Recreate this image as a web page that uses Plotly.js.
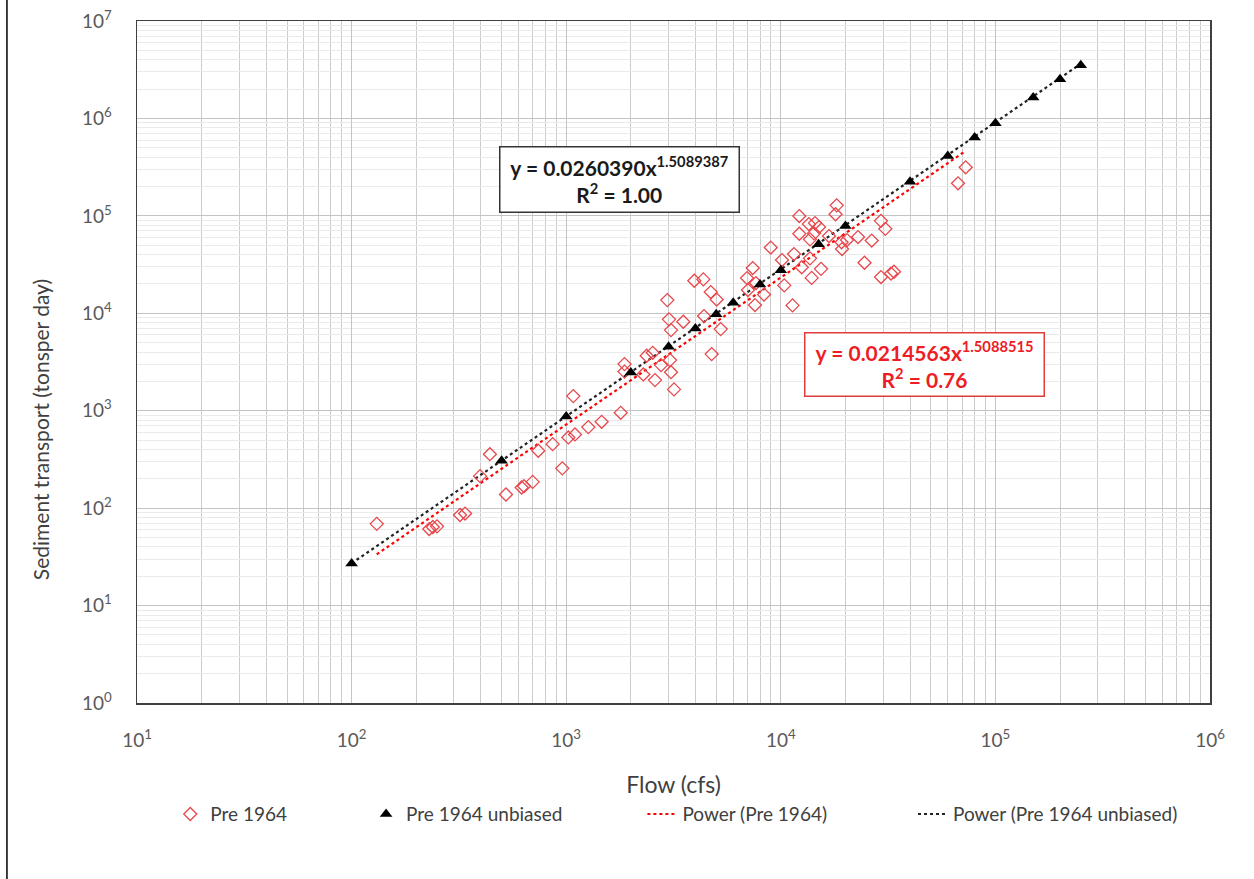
<!DOCTYPE html>
<html>
<head>
<meta charset="utf-8">
<script src="https://cdn.plot.ly/plotly-3.0.1.min.js"></script>
<style>html,body{margin:0;padding:0;background:#fff;}#chart{width:1254px;height:879px;}</style>
</head>
<body>
<div id="chart"></div>
<script>
// Pre 1964 observations (flow cfs, sediment tons/day)
const flowPre = [131, 230, 239, 250, 320, 338, 397, 441, 524, 620, 636, 698, 741, 865, 959, 1023, 1099, 1079, 1268, 1463,
  1795, 1870, 1870, 2287, 2372, 2530, 2593, 2766, 3046, 3079, 3180, 2959, 3013, 3079, 3513, 3954, 4356, 4715, 5027, 4388,
  4764, 5248, 6960, 7400, 7660, 7030, 7580, 8350, 8980, 10130, 10380, 11340, 11520, 12200, 12200, 12520, 13510, 14430, 15070, 14280,
  13680, 13680, 13930, 15400, 16770, 18220, 17990, 19190, 19290, 20350, 22900, 26520, 24550, 29300, 30690, 29300, 32620, 33690, 66950, 72700];
const sedPre = [69, 61, 64, 65, 85, 88, 213, 358, 138, 163, 168, 186, 388, 454, 256, 532, 571, 1412, 679, 769,
  952, 3010, 2520, 2358, 3663, 3930, 2062, 2939, 3307, 2485, 1655, 13660, 8660, 6720, 8180, 21560, 22280, 16510, 13830, 9360,
  3810, 6880, 22980, 29120, 20420, 17310, 12140, 15560, 47260, 35170, 19340, 12050, 40540, 99500, 65500, 29670, 82360, 84350, 76740, 66120,
  36630, 57380, 23090, 28570, 62030, 128200, 103800, 53580, 45610, 56430, 60570, 55770, 33000, 88850, 73550, 23530, 25560, 26680, 215700, 314800];

// Pre 1964 unbiased
const flowUnb = [100, 500, 1000, 2000, 3000, 4000, 5000, 6000, 8000, 10000, 15000, 20000, 40000, 60000, 80000, 100000, 150000, 200000, 250000];
const sedUnb = [27, 306, 870, 2470, 4530, 6990, 9780, 12800, 19700, 27700, 51000, 78700, 224000, 412000, 636000, 890000, 1640000, 2530000, 3520000];

// Power trendline coefficients (from chart labels)
const coefPre = 0.0214563, expPre = 1.5088515, r2Pre = "0.76";
const coefUnb = 0.0260390, expUnb = 1.5089387, r2Unb = "1.00";

const xTickVals = [10, 100, 1000, 10000, 100000, 1000000];
const xTickText = ["10<sup>1</sup>", "10<sup>2</sup>", "10<sup>3</sup>", "10<sup>4</sup>", "10<sup>5</sup>", "10<sup>6</sup>"];
const yTickVals = [1, 10, 100, 1000, 10000, 100000, 1000000, 10000000];
const yTickText = ["10<sup>0</sup>", "10<sup>1</sup>", "10<sup>2</sup>", "10<sup>3</sup>", "10<sup>4</sup>", "10<sup>5</sup>", "10<sup>6</sup>", "10<sup>7</sup>"];

const xTitle = "Flow (cfs)";
const yTitle = "Sediment transport (tonsper day)";

function minorVals(lo, hi) {
  const v = [];
  for (let e = lo; e < hi; e++) for (let d = 2; d <= 9; d++) v.push(d * Math.pow(10, e));
  return v;
}
function powerLine(xs, a, b) {
  const x0 = Math.min(...xs), x1 = Math.max(...xs);
  return {x: [x0, x1], y: [a * Math.pow(x0, b), a * Math.pow(x1, b)]};
}
const linePre = powerLine(flowPre, coefPre, expPre);
const lineUnb = powerLine(flowUnb, coefUnb, expUnb);

const FONT = "Lato, 'Open Sans', sans-serif";
const GRAY = "#595959";
const RED = "#ee1c24";

const traces = [
  {x: linePre.x, y: linePre.y, mode: "lines", name: "Power (Pre 1964)", legend: "legend3",
   line: {color: "#ff0000", width: 2.2, dash: "dot"}, hoverinfo: "skip"},
  {x: lineUnb.x, y: lineUnb.y, mode: "lines", name: "Power (Pre 1964 unbiased)", legend: "legend4",
   line: {color: "#222222", width: 2.2, dash: "dot"}, hoverinfo: "skip"},
  {x: flowPre, y: sedPre, mode: "markers", name: "Pre 1964", legend: "legend",
   marker: {symbol: "diamond-open", size: 10, color: "#e8474c", line: {width: 1.3, color: "#e8474c"}}},
  {x: flowUnb, y: sedUnb, mode: "markers", name: "Pre 1964 unbiased", legend: "legend2",
   marker: {symbol: "triangle-up", size: 11, color: "#000000"}}
];

const legBase = {orientation: "h", yanchor: "middle", y: -0.163, xanchor: "left",
  font: {family: FONT, size: 19, color: "#404040"}, bgcolor: "rgba(0,0,0,0)"};

const layout = {
  width: 1254, height: 879,
  margin: {l: 137, r: 44, t: 21, b: 176},
  paper_bgcolor: "#ffffff", plot_bgcolor: "#ffffff",
  font: {family: FONT, color: GRAY},
  showlegend: true,
  legend: Object.assign({}, legBase, {x: 0.031}),
  legend2: Object.assign({}, legBase, {x: 0.2135}),
  legend3: Object.assign({}, legBase, {x: 0.471}),
  legend4: Object.assign({}, legBase, {x: 0.7232}),
  xaxis: {
    type: "log", range: [1, 6], tickmode: "array", tickvals: xTickVals, ticktext: xTickText,
    tickfont: {family: FONT, size: 19, color: GRAY}, ticklabelstandoff: 20, ticks: "",
    showgrid: true, gridcolor: "#c4c4c4", gridwidth: 1,
    minor: {tickmode: "array", tickvals: minorVals(1, 6), showgrid: true, gridcolor: "#cccccc", gridwidth: 1, ticks: ""},
    showline: true, mirror: true, linecolor: "#404040", linewidth: 1.5, zeroline: false,
    title: {text: xTitle, font: {family: FONT, size: 23, color: "#404040"}, standoff: 26}
  },
  yaxis: {
    type: "log", range: [0, 7], tickmode: "array", tickvals: yTickVals, ticktext: yTickText,
    tickfont: {family: FONT, size: 19, color: GRAY}, ticklabelstandoff: 20, ticks: "",
    showgrid: true, gridcolor: "#c4c4c4", gridwidth: 1,
    minor: {tickmode: "array", tickvals: minorVals(0, 7), showgrid: true, gridcolor: "#eaeaea", gridwidth: 1, ticks: ""},
    showline: true, mirror: true, linecolor: "#404040", linewidth: 1.5, zeroline: false
  },
  annotations: [
    {xref: "paper", yref: "paper", x: -0.0904, y: 0.40, xanchor: "center", yanchor: "middle", showarrow: false,
     text: yTitle, textangle: -90, font: {family: FONT, size: 21, color: "#404040"}},
    {xref: "paper", yref: "paper", x: 0.450, y: 0.767, xanchor: "center", yanchor: "middle", showarrow: false,
     text: "y = " + coefUnb.toFixed(7) + "x<sup>" + expUnb.toFixed(7) + "</sup><br>R<sup>2</sup> = " + r2Unb,
     font: {family: FONT, size: 21, color: "#1a1a1a", weight: "bold"}, align: "center",
     bgcolor: "#ffffff", bordercolor: "#333333", borderwidth: 1.5, borderpad: 3, width: 232, height: 58},
    {xref: "paper", yref: "paper", x: 0.734, y: 0.497, xanchor: "center", yanchor: "middle", showarrow: false,
     text: "y = " + coefPre.toFixed(7) + "x<sup>" + expPre.toFixed(7) + "</sup><br>R<sup>2</sup> = " + r2Pre,
     font: {family: FONT, size: 21, color: RED, weight: "bold"}, align: "center",
     bgcolor: "#ffffff", bordercolor: "#e03c3c", borderwidth: 1.5, borderpad: 3, width: 232, height: 56}
  ],
  shapes: [
    {type: "line", xref: "paper", yref: "paper", x0: -0.1212, x1: -0.1212, y0: -0.26, y1: 1.04,
     line: {color: "#000000", width: 1.5}}
  ]
};

Plotly.newPlot("chart", traces, layout, {displayModeBar: false, staticPlot: true});
</script>
</body>
</html>
